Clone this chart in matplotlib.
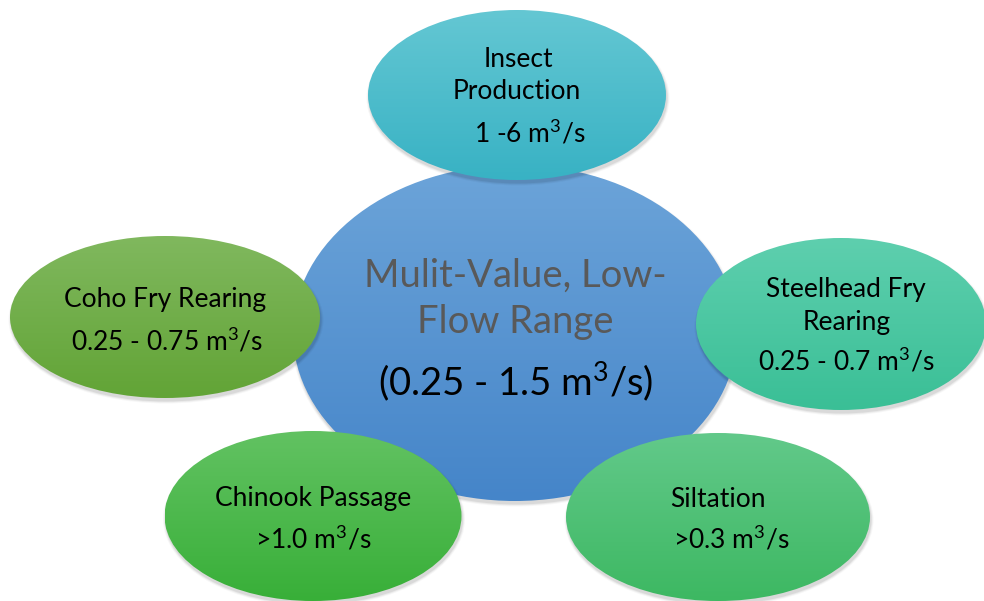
import numpy as np
import matplotlib
matplotlib.use("Agg")
import matplotlib.pyplot as plt
from matplotlib.patches import Ellipse
from matplotlib.colors import to_rgb

plt.rcParams['font.family'] = ['Lato', 'DejaVu Sans']
plt.rcParams['mathtext.fontset'] = 'custom'
plt.rcParams['mathtext.rm'] = 'Lato'
plt.rcParams['mathtext.it'] = 'Lato'
plt.rcParams['mathtext.default'] = 'regular'

# bubbles: centre x, centre y, width, height (pixels), gradient top/bottom colour
names = ["center", "insect", "coho", "steelhead", "chinook", "siltation"]
cx = [515, 517, 165, 841, 313, 718]
cy = [333, 95, 317, 324, 516, 517]
widths = [444, 298, 310, 290, 297, 304]
heights = [336, 170, 162, 172, 170, 168]
top_colors = ["#6ca4d9", "#64c7d3", "#80b85e", "#5ecfae", "#62c262", "#62c98a"]
bottom_colors = ["#4585c9", "#38b2c4", "#62a436", "#3abf96", "#38af38", "#3db862"]

unit = r"m$^{3}$/s"

# text lines per bubble: (text, x, baseline y)
center_title = ["Mulit-Value, Low-", "Flow Range"]
center_title_y = [287, 333]
center_range = "(0.25 - 1.5 " + unit + ")"
center_range_y = [395]

lines = {
    "insect": [("Insect", 518, 67), ("Production", 517, 99), ("1 -6 " + unit, 530, 142)],
    "coho": [("Coho Fry Rearing", 165, 307), ("0.25 - 0.75 " + unit, 167, 350)],
    "steelhead": [("Steelhead Fry", 846, 297), ("Rearing", 847, 330), ("0.25 - 0.7 " + unit, 846, 371)],
    "chinook": [("Chinook Passage", 313, 506), (">1.0 " + unit, 313, 548)],
    "siltation": [("Siltation", 718, 507), (">0.3 " + unit, 731, 548)],
}

fig = plt.figure(figsize=(9.84, 6.01), dpi=100)
ax = fig.add_axes([0, 0, 1, 1])
ax.set_xlim(0, 984)
ax.set_ylim(601, 0)
ax.axis("off")


def bubble(i, z):
    x, y, w, h = cx[i], cy[i], widths[i], heights[i]
    # soft shadow
    for k, a in zip([5, 3, 1], [0.03, 0.05, 0.07]):
        ax.add_patch(Ellipse((x + 1, y + 3), w + k, h + k, color="black",
                             alpha=a, lw=0, zorder=z))
    clip = Ellipse((x, y), w, h, facecolor="none", edgecolor="none", zorder=z + 1)
    ax.add_patch(clip)
    t = np.linspace(0, 1, 200)[:, None]
    c0 = np.array(to_rgb(top_colors[i]))
    c1 = np.array(to_rgb(bottom_colors[i]))
    img = c0[None, None, :] * (1 - t[:, :, None]) + c1[None, None, :] * t[:, :, None]
    img = np.repeat(img, 2, axis=1)
    im = ax.imshow(img, extent=(x - w / 2, x + w / 2, y + h / 2, y - h / 2),
                   aspect="auto", zorder=z + 1, interpolation="bilinear")
    im.set_clip_path(clip)


bubble(0, 1)
for j in range(1, len(names)):
    bubble(j, 3)

for s, yy in zip(center_title, center_title_y):
    ax.text(515, yy, s, ha="center", va="baseline", fontsize=27.5,
            color="#595959", zorder=10)
ax.text(516, center_range_y[0], center_range, ha="center", va="baseline",
        fontsize=27.5, color="black", zorder=10)

for key in names[1:]:
    for s, xx, yy in lines[key]:
        ax.text(xx, yy, s, ha="center", va="baseline", fontsize=19,
                color="black", zorder=10)

ax.set_xlim(0, 984)
ax.set_ylim(601, 0)
fig.savefig("out.png", dpi=100)
